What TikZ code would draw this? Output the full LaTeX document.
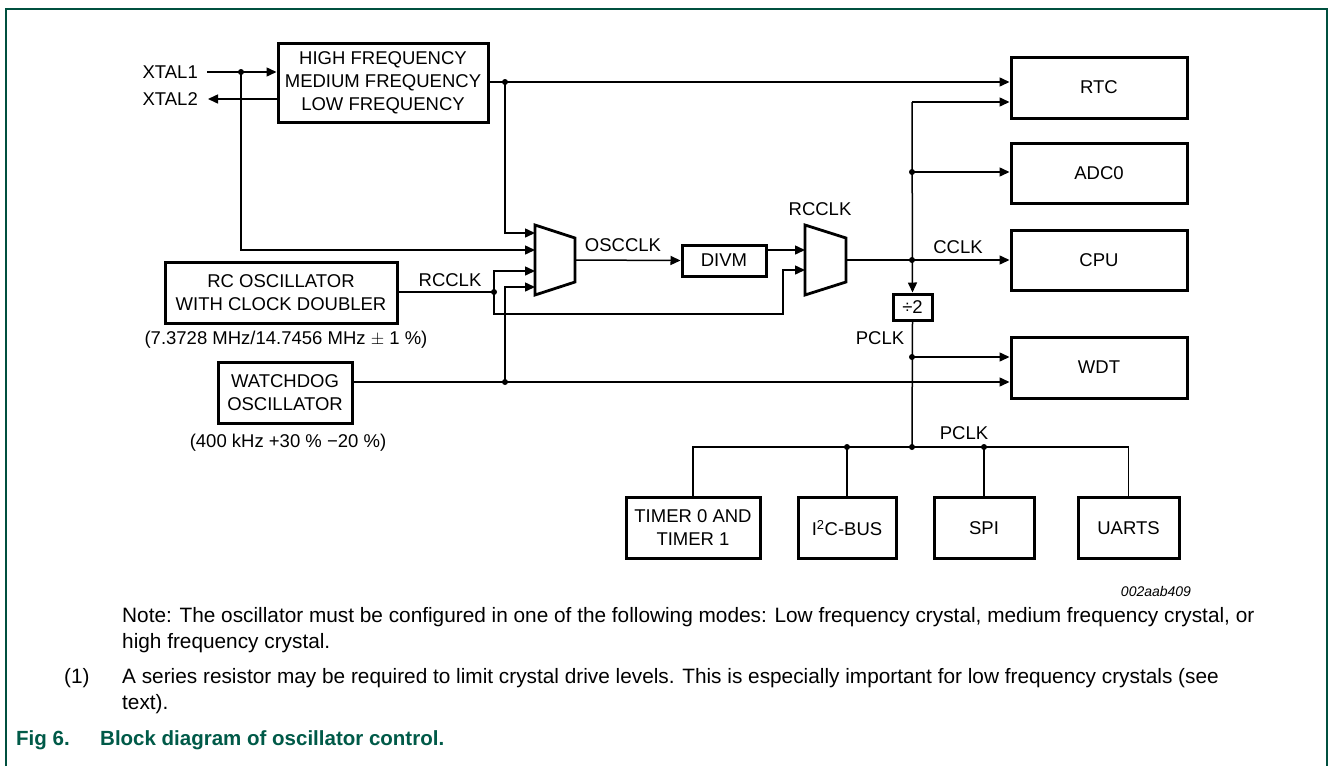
\documentclass[tikz,border=0pt]{standalone}
\usepackage{fontspec}
\setmainfont{Liberation Sans}
\usetikzlibrary{arrows.meta}
\definecolor{frm}{HTML}{00503F}
\definecolor{figc}{HTML}{005A48}
\begin{document}
\begin{tikzpicture}[x=1pt,y=-1pt,
  blk/.style={draw, line width=3pt, align=center, inner sep=0pt, font=\fontsize{18.5}{23}\selectfont},
  wire/.style={line width=1.5pt},
  arr/.style={wire, -{Triangle[length=10pt,width=9pt]}},
  dot/.style={circle, fill, inner sep=0pt, minimum size=6pt},
  lbl/.style={font=\fontsize{18.5}{22}\selectfont, inner sep=0pt},
  txt/.style={font=\fontsize{20.8}{24}\selectfont, inner sep=0pt, anchor=west},
  mux/.style={line width=2.8pt, line join=miter}]
\useasboundingbox (0,0) rectangle (1328,766);
% frame
\draw[frm, line width=2pt] (6,766) -- (6,9) -- (1327,9) -- (1327,766);

% boxes
\node[blk, minimum width=210pt, minimum height=79pt] (hf) at (383,82.5) {HIGH FREQUENCY\\MEDIUM FREQUENCY\\LOW FREQUENCY};
\node[blk, minimum width=232pt, minimum height=61pt] (rc) at (281,292.5) {RC OSCILLATOR\\WITH CLOCK DOUBLER};
\node[blk, minimum width=134pt, minimum height=61pt] (wd) at (285,392.5) {WATCHDOG\\OSCILLATOR};
\node[blk, minimum width=84pt, minimum height=31pt] (divm) at (724,260.5) {DIVM};
\node[blk, minimum width=176pt, minimum height=61pt] (rtc) at (1099,87.5) {RTC};
\node[blk, minimum width=176pt, minimum height=60pt] (adc) at (1099,173) {ADC0};
\node[blk, minimum width=176pt, minimum height=60pt] (cpu) at (1099,260) {CPU};
\node[blk, minimum width=176pt, minimum height=61pt] (wdt) at (1099,367.5) {WDT};
\node[blk, minimum width=39pt, minimum height=26pt] (div2) at (912.5,307) {÷2};
\node[blk, minimum width=134pt, minimum height=61pt] (tim) at (693,528) {TIMER 0 AND\\TIMER 1};
\node[blk, minimum width=98pt, minimum height=61pt] (i2c) at (847,528) {I\textsuperscript{2}C-BUS};
\node[blk, minimum width=100pt, minimum height=61pt] (spi) at (984,528) {SPI};
\node[blk, minimum width=101pt, minimum height=61pt] (uart) at (1128.5,528) {UARTS};

% muxes
\draw[mux] (535,225) -- (575,238) -- (575,282) -- (535,295) -- cycle;
\draw[mux] (805,225) -- (846,238) -- (846,282) -- (805,295) -- cycle;
\coordinate (m1a) at (535,233);
\coordinate (m1b) at (535,250);
\coordinate (m1c) at (535,271);
\coordinate (m1d) at (535,287);
\coordinate (m1o) at (575,260);
\coordinate (m2a) at (805,250);
\coordinate (m2b) at (805,270);
\coordinate (m2o) at (846,260);

% labels
\node[lbl, anchor=east] (xt1) at (198,72) {XTAL1};
\node[lbl, anchor=east] (xt2) at (198,99) {XTAL2};
\node[lbl] (l1) at (450,280) {RCCLK};
\node[lbl] (l2) at (623,245) {OSCCLK};
\node[lbl] (l3) at (820,209) {RCCLK};
\node[lbl] (l4) at (958,247) {CCLK};
\node[lbl] (l5) at (880,338) {PCLK};
\node[lbl] (l6) at (964,433) {PCLK};
\node[lbl] (f1) at (286,340) {(7.3728 MHz/14.7456 MHz $\pm$ 1 \%)};
\node[lbl] (f2) at (288,443) {(400 kHz +30 \% −20 \%)};
\node[inner sep=0pt, font=\fontsize{14}{16}\selectfont\itshape] (id) at (1156,591) {002aab409};

% dots / coordinates
\node[dot] (x1d) at (241,72) {};
\node[dot] (hfd) at (505,82) {};
\node[dot] (rcd) at (494,292) {};
\node[dot] (wdd) at (505,382) {};
\coordinate (ct) at (912,102);
\node[dot] (ad) at (912,172) {};
\node[dot] (cd) at (912,260) {};
\node[dot] (pd) at (912,357) {};
\node[dot] (bm) at (912,447) {};
\node[dot] (bi) at (847,447) {};
\node[dot] (bs) at (984,447) {};
\coordinate (x1s) at (207,72);
\coordinate (x2e) at (208,99);

% connectors
\draw[arr] (x1s) -- (x1s -| hf.west);
\draw[arr] (hf.west |- x2e) -- (x2e);
\draw[arr] (x1d.center) -- (x1d.center |- m1b) -- (m1b);
\draw[arr] (hf.east |- hfd) -- (hfd -| rtc.west);
\draw[arr] (hfd.center) -- (hfd.center |- m1a) -- (m1a);
\draw[wire] (rc.east |- rcd) -- (rcd.center);
\draw[arr] (rcd.center) -- (rcd.center |- m1c) -- (m1c);
\draw[arr] (rcd.center) -- (494,314) -- (783,314) -- (783,270) -- (m2b);
\draw[arr] (wd.east |- wdd) -- (wdd -| wdt.west);
\draw[arr] (wdd.center) -- (wdd.center |- m1d) -- (m1d);
\draw[arr] (m1o) -- (divm.west);
\draw[arr] (divm.east |- m2a) -- (m2a);
\draw[arr] (m2o) -- (m2o -| cpu.west);
\draw[arr] (ct) -- (ct -| rtc.west);
\draw[arr] (ct) -- (div2.north);
\draw[arr] (ad.center) -- (ad.center -| adc.west);
\draw[wire] (div2.south) -- (bm.center);
\draw[arr] (pd.center) -- (pd.center -| wdt.west);
\draw[wire] (tim.north) -- (tim.north |- bm) -- (uart.north |- bm) -- (uart.north);
\draw[wire] (bi.center) -- (i2c.north);
\draw[wire] (bs.center) -- (spi.north);

% notes
\node[txt] (n1) at (122,617) {Note: The oscillator must be configured in one of the following modes: Low frequency crystal, medium frequency crystal, or};
\node[txt] (n2) at (122,643) {high frequency crystal.};
\node[txt] (n3a) at (64,678) {(1)};
\node[txt] (n3) at (122,678) {A series resistor may be required to limit crystal drive levels. This is especially important for low frequency crystals (see};
\node[txt] (n4) at (122,704) {text).};
\node[txt, font=\fontsize{20.5}{24}\selectfont\bfseries, text=figc] (fg) at (16,740) {Fig 6.};
\node[txt, font=\fontsize{20.5}{24}\selectfont\bfseries, text=figc] (fgt) at (100,740) {Block diagram of oscillator control.};
\end{tikzpicture}
\end{document}
